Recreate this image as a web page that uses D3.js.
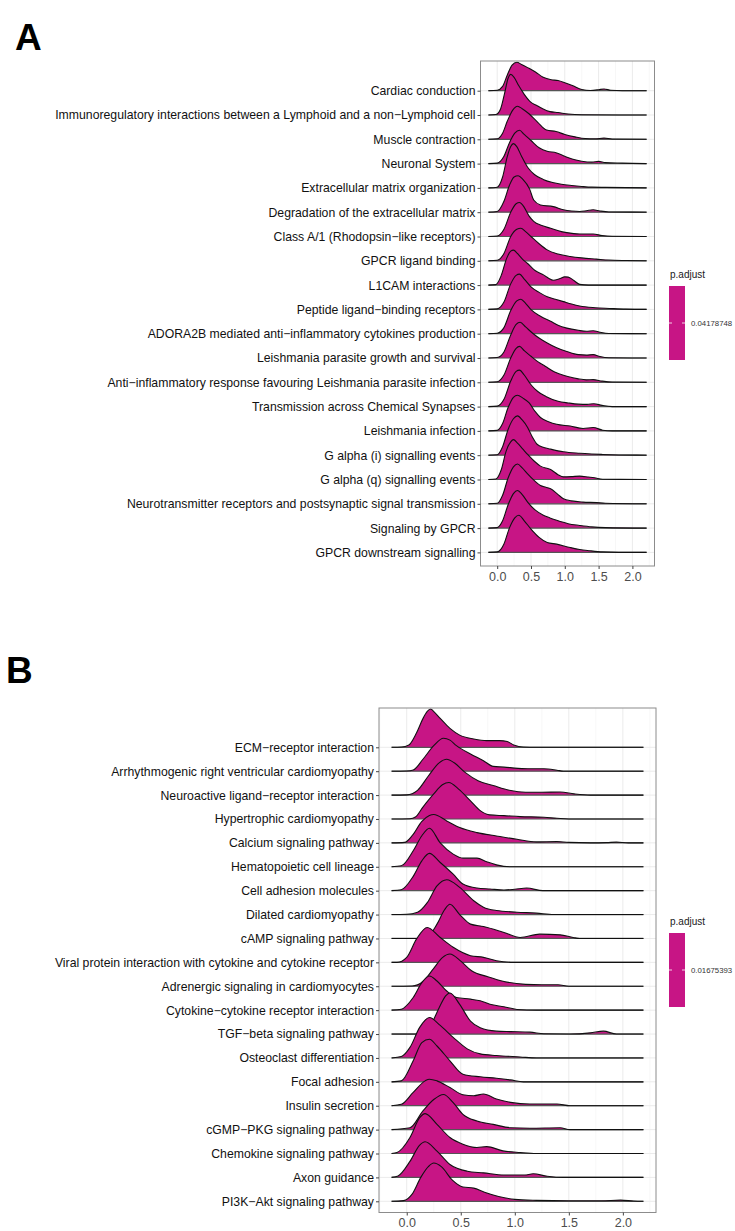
<!DOCTYPE html>
<html>
<head>
<meta charset="utf-8">
<script src="https://cdn.jsdelivr.net/npm/d3@7"></script>
<style>
  body { margin: 0; background: #fff; }
  text { font-family: "Liberation Sans", Arial, sans-serif; }
</style>
</head>
<body>
<div id="chart"></div>
<script>
// ---- data ----
const catsA = [
  "Cardiac conduction",
  "Immunoregulatory interactions between a Lymphoid and a non\u2212Lymphoid cell",
  "Muscle contraction",
  "Neuronal System",
  "Extracellular matrix organization",
  "Degradation of the extracellular matrix",
  "Class A/1 (Rhodopsin\u2212like receptors)",
  "GPCR ligand binding",
  "L1CAM interactions",
  "Peptide ligand\u2212binding receptors",
  "ADORA2B mediated anti\u2212inflammatory cytokines production",
  "Leishmania parasite growth and survival",
  "Anti\u2212inflammatory response favouring Leishmania parasite infection",
  "Transmission across Chemical Synapses",
  "Leishmania infection",
  "G alpha (i) signalling events",
  "G alpha (q) signalling events",
  "Neurotransmitter receptors and postsynaptic signal transmission",
  "Signaling by GPCR",
  "GPCR downstream signalling"
];

const catsB = [
  "ECM\u2212receptor interaction",
  "Arrhythmogenic right ventricular cardiomyopathy",
  "Neuroactive ligand\u2212receptor interaction",
  "Hypertrophic cardiomyopathy",
  "Calcium signaling pathway",
  "Hematopoietic cell lineage",
  "Cell adhesion molecules",
  "Dilated cardiomyopathy",
  "cAMP signaling pathway",
  "Viral protein interaction with cytokine and cytokine receptor",
  "Adrenergic signaling in cardiomyocytes",
  "Cytokine\u2212cytokine receptor interaction",
  "TGF\u2212beta signaling pathway",
  "Osteoclast differentiation",
  "Focal adhesion",
  "Insulin secretion",
  "cGMP\u2212PKG signaling pathway",
  "Chemokine signaling pathway",
  "Axon guidance",
  "PI3K\u2212Akt signaling pathway"
];

// ridge profiles: [value, height in row units]
const densA = [
  [[-0.13,0],[0.0,0.02],[0.08,0.18],[0.15,0.65],[0.22,1.05],[0.29,1.17],[0.36,1.08],[0.45,0.95],[0.56,0.78],[0.68,0.55],[0.8,0.45],[0.9,0.42],[1.0,0.33],[1.12,0.2],[1.25,0.05],[1.38,0.01],[1.5,0.04],[1.58,0.07],[1.68,0.02],[1.85,0],[2.21,0]],
  [[-0.13,0],[-0.02,0.02],[0.05,0.25],[0.11,0.9],[0.16,1.5],[0.2,1.67],[0.25,1.55],[0.32,1.2],[0.4,0.85],[0.5,0.52],[0.58,0.4],[0.66,0.28],[0.78,0.14],[0.9,0.1],[1.05,0.04],[1.25,0.01],[2.21,0]],
  [[-0.13,0],[0.0,0.02],[0.08,0.25],[0.15,0.75],[0.23,1.2],[0.3,1.36],[0.37,1.26],[0.47,1.05],[0.6,0.7],[0.73,0.38],[0.87,0.32],[1.0,0.2],[1.15,0.1],[1.3,0.03],[1.45,0.02],[1.58,0.05],[1.7,0.01],[2.21,0]],
  [[-0.13,0],[0.0,0.02],[0.1,0.3],[0.18,0.85],[0.26,1.25],[0.33,1.37],[0.4,1.2],[0.5,0.95],[0.62,0.65],[0.75,0.5],[0.87,0.45],[1.0,0.3],[1.12,0.18],[1.25,0.1],[1.4,0.06],[1.5,0.09],[1.6,0.04],[1.85,0.02],[2.0,0.01],[2.21,0]],
  [[-0.13,0],[0.0,0.03],[0.08,0.45],[0.15,1.3],[0.2,1.7],[0.24,1.82],[0.29,1.7],[0.36,1.3],[0.45,0.85],[0.55,0.55],[0.68,0.35],[0.82,0.22],[0.95,0.15],[1.1,0.1],[1.25,0.06],[1.4,0.03],[1.6,0.02],[2.21,0]],
  [[-0.13,0],[0.0,0.03],[0.1,0.45],[0.18,1.1],[0.25,1.45],[0.31,1.5],[0.38,1.35],[0.48,0.95],[0.54,0.5],[0.64,0.3],[0.83,0.23],[0.98,0.1],[1.1,0.05],[1.22,0.03],[1.32,0.06],[1.42,0.1],[1.52,0.05],[1.65,0.01],[2.21,0]],
  [[-0.13,0],[0.0,0.02],[0.1,0.3],[0.2,1.0],[0.28,1.35],[0.33,1.4],[0.4,1.2],[0.47,0.85],[0.54,0.62],[0.66,0.45],[0.79,0.34],[0.95,0.2],[1.08,0.14],[1.25,0.1],[1.42,0.1],[1.55,0.04],[1.7,0.01],[2.21,0]],
  [[-0.13,0],[0.0,0.02],[0.1,0.3],[0.2,1.0],[0.29,1.3],[0.35,1.34],[0.42,1.2],[0.5,1.0],[0.62,0.7],[0.74,0.45],[0.9,0.28],[1.08,0.18],[1.25,0.12],[1.47,0.07],[1.65,0.03],[1.9,0.01],[2.21,0]],
  [[-0.13,0],[-0.02,0.02],[0.06,0.4],[0.14,1.1],[0.2,1.4],[0.24,1.44],[0.3,1.3],[0.38,1.05],[0.45,0.89],[0.56,0.6],[0.69,0.41],[0.76,0.28],[0.83,0.2],[0.92,0.26],[1.0,0.34],[1.05,0.33],[1.13,0.2],[1.22,0.03],[1.35,0],[2.21,0]],
  [[-0.13,0],[0.0,0.02],[0.1,0.3],[0.2,1.05],[0.28,1.4],[0.33,1.45],[0.4,1.25],[0.5,0.93],[0.62,0.7],[0.74,0.52],[0.86,0.42],[0.98,0.32],[1.1,0.22],[1.22,0.14],[1.45,0.07],[1.66,0.04],[1.9,0.01],[2.21,0]],
  [[-0.13,0],[0.0,0.02],[0.1,0.25],[0.2,0.95],[0.29,1.35],[0.35,1.42],[0.42,1.25],[0.5,0.99],[0.64,0.72],[0.79,0.51],[0.9,0.35],[1.03,0.23],[1.2,0.14],[1.32,0.1],[1.42,0.12],[1.52,0.06],[1.65,0.01],[2.21,0]],
  [[-0.13,0],[0.0,0.02],[0.1,0.25],[0.2,0.95],[0.28,1.38],[0.34,1.47],[0.42,1.28],[0.52,1.03],[0.63,0.8],[0.74,0.62],[0.88,0.42],[1.03,0.27],[1.2,0.14],[1.32,0.12],[1.42,0.14],[1.52,0.06],[1.65,0.01],[2.21,0]],
  [[-0.13,0],[0.0,0.02],[0.1,0.3],[0.2,1.0],[0.28,1.4],[0.33,1.48],[0.4,1.3],[0.5,1.07],[0.6,0.85],[0.71,0.66],[0.85,0.42],[1.03,0.25],[1.2,0.14],[1.32,0.1],[1.42,0.11],[1.55,0.05],[1.7,0.01],[2.21,0]],
  [[-0.13,0],[0.0,0.02],[0.1,0.3],[0.2,1.05],[0.28,1.45],[0.33,1.5],[0.4,1.3],[0.5,0.9],[0.6,0.62],[0.72,0.42],[0.9,0.22],[1.05,0.15],[1.2,0.1],[1.33,0.09],[1.43,0.12],[1.55,0.05],[1.7,0.0],[2.21,0]],
  [[-0.13,0],[0.0,0.02],[0.08,0.3],[0.16,0.95],[0.24,1.38],[0.3,1.47],[0.38,1.35],[0.47,1.16],[0.56,0.8],[0.64,0.55],[0.76,0.38],[0.88,0.27],[1.08,0.2],[1.27,0.1],[1.42,0.14],[1.56,0.03],[1.7,0],[2.21,0]],
  [[-0.13,0],[0.0,0.02],[0.08,0.35],[0.16,1.05],[0.24,1.5],[0.3,1.62],[0.37,1.45],[0.45,1.14],[0.52,0.75],[0.59,0.45],[0.69,0.32],[0.79,0.25],[0.98,0.14],[1.22,0.08],[1.4,0.05],[1.56,0.03],[1.8,0.01],[2.21,0]],
  [[-0.13,0],[-0.02,0.02],[0.06,0.4],[0.13,1.15],[0.2,1.55],[0.24,1.64],[0.3,1.5],[0.38,1.25],[0.45,1.03],[0.55,0.75],[0.64,0.55],[0.79,0.41],[0.9,0.2],[0.98,0.11],[1.1,0.12],[1.22,0.14],[1.35,0.1],[1.44,0.07],[1.56,0.01],[2.21,0]],
  [[-0.13,0],[0.0,0.02],[0.08,0.35],[0.16,1.05],[0.24,1.52],[0.3,1.64],[0.37,1.48],[0.45,1.23],[0.55,0.95],[0.64,0.75],[0.72,0.68],[0.79,0.62],[0.9,0.38],[0.98,0.21],[1.1,0.12],[1.27,0.07],[1.47,0.05],[1.6,0.02],[2.21,0]],
  [[-0.13,0],[0.0,0.02],[0.08,0.3],[0.16,0.95],[0.24,1.42],[0.3,1.55],[0.37,1.38],[0.45,1.07],[0.56,0.75],[0.69,0.52],[0.78,0.42],[0.88,0.32],[1.05,0.18],[1.22,0.11],[1.4,0.05],[1.6,0.02],[2.21,0]],
  [[-0.13,0],[0.0,0.02],[0.1,0.35],[0.18,1.0],[0.26,1.42],[0.32,1.53],[0.4,1.3],[0.5,0.96],[0.62,0.62],[0.74,0.41],[0.88,0.34],[1.08,0.2],[1.22,0.12],[1.37,0.07],[1.56,0.02],[1.8,0],[2.21,0]]
];

const densB = [
  [[-0.14,0],[-0.05,0.01],[0.02,0.1],[0.09,0.6],[0.15,1.2],[0.19,1.5],[0.22,1.6],[0.26,1.45],[0.31,1.21],[0.4,0.79],[0.49,0.51],[0.62,0.35],[0.74,0.28],[0.86,0.28],[0.93,0.24],[0.99,0.1],[1.08,0.01],[1.2,0],[2.19,0]],
  [[-0.14,0],[0.0,0.01],[0.06,0.05],[0.15,0.5],[0.25,1.07],[0.34,1.38],[0.4,1.3],[0.46,1.07],[0.59,0.72],[0.71,0.44],[0.8,0.2],[0.9,0.17],[1.03,0.12],[1.14,0.1],[1.27,0.1],[1.39,0.04],[1.45,0.0],[2.19,0]],
  [[-0.14,0],[0.0,0.01],[0.1,0.2],[0.2,0.8],[0.3,1.35],[0.37,1.5],[0.44,1.35],[0.54,0.95],[0.66,0.6],[0.8,0.4],[0.95,0.2],[1.1,0.12],[1.25,0.12],[1.42,0.13],[1.55,0.05],[1.7,0.0],[2.19,0]],
  [[-0.14,0],[0.03,0.01],[0.08,0.08],[0.15,0.5],[0.25,1.05],[0.33,1.43],[0.39,1.53],[0.48,1.25],[0.59,0.76],[0.68,0.35],[0.77,0.17],[0.9,0.14],[1.05,0.1],[1.27,0.07],[1.39,0.03],[1.5,0],[2.19,0]],
  [[-0.14,0],[-0.02,0.02],[0.05,0.3],[0.14,0.9],[0.21,1.15],[0.25,1.19],[0.37,0.92],[0.49,0.64],[0.65,0.43],[0.83,0.29],[1.02,0.15],[1.2,0.04],[1.39,0.06],[1.5,0.02],[1.7,0.0],[1.85,0.01],[1.94,0.03],[2.05,0.0],[2.19,0]],
  [[-0.14,0],[-0.05,0.04],[0.06,0.67],[0.14,1.3],[0.21,1.61],[0.31,1.0],[0.43,0.53],[0.52,0.36],[0.65,0.36],[0.74,0.21],[0.83,0.08],[0.96,0.0],[2.19,0]],
  [[-0.14,0],[-0.05,0.04],[0.06,0.6],[0.14,1.25],[0.21,1.56],[0.31,1.18],[0.43,0.69],[0.52,0.28],[0.65,0.11],[0.77,0.07],[0.9,0.03],[1.0,0.06],[1.11,0.11],[1.26,0.0],[2.19,0]],
  [[-0.14,0],[0.0,0.01],[0.1,0.1],[0.19,0.5],[0.28,1.2],[0.37,1.46],[0.49,1.14],[0.62,0.58],[0.71,0.31],[0.83,0.17],[1.02,0.1],[1.2,0.06],[1.36,0.0],[2.19,0]],
  [[-0.14,0],[0.1,0.0],[0.2,0.1],[0.28,0.6],[0.35,1.2],[0.4,1.43],[0.49,1.0],[0.59,0.6],[0.71,0.5],[0.9,0.25],[1.05,0.04],[1.23,0.18],[1.42,0.15],[1.54,0.04],[1.6,0.0],[2.19,0]],
  [[-0.14,0],[-0.09,0.0],[0.0,0.21],[0.09,0.97],[0.19,1.46],[0.31,1.04],[0.43,0.63],[0.59,0.28],[0.71,0.21],[0.83,0.07],[0.99,0.0],[2.19,0]],
  [[-0.14,0],[0.05,0.01],[0.15,0.2],[0.25,0.75],[0.33,1.2],[0.4,1.35],[0.5,1.05],[0.6,0.65],[0.75,0.4],[0.9,0.2],[1.1,0.08],[1.25,0.06],[1.4,0.06],[1.5,0.0],[2.19,0]],
  [[-0.14,0],[-0.05,0.04],[0.06,0.53],[0.14,1.15],[0.21,1.43],[0.28,1.22],[0.37,0.8],[0.46,0.53],[0.59,0.46],[0.68,0.39],[0.77,0.25],[0.9,0.14],[1.02,0.03],[1.2,0.0],[2.19,0]],
  [[-0.14,0],[0.15,0],[0.22,0.35],[0.3,1.1],[0.36,1.6],[0.4,1.72],[0.49,1.24],[0.59,0.54],[0.68,0.26],[0.83,0.12],[0.96,0.1],[1.14,0.08],[1.27,0.01],[1.51,0],[1.7,0.05],[1.82,0.12],[1.94,0.0],[2.19,0]],
  [[-0.14,0],[-0.05,0.06],[0.03,0.44],[0.12,1.28],[0.21,1.69],[0.31,1.36],[0.43,0.86],[0.56,0.38],[0.68,0.17],[0.83,0.1],[1.05,0.04],[1.2,0.0],[2.19,0]],
  [[-0.14,0],[-0.05,0.04],[0.06,0.88],[0.14,1.64],[0.21,1.78],[0.28,1.5],[0.4,0.88],[0.52,0.32],[0.68,0.21],[0.83,0.15],[0.96,0.08],[1.08,0.0],[2.19,0]],
  [[-0.14,0],[-0.05,0.06],[0.06,0.56],[0.17,1.04],[0.21,1.11],[0.28,1.04],[0.4,0.76],[0.52,0.46],[0.62,0.42],[0.71,0.49],[0.83,0.28],[0.96,0.14],[1.14,0.07],[1.39,0.07],[1.51,0.0],[2.19,0]],
  [[-0.14,0],[0.03,0.08],[0.15,0.78],[0.25,1.26],[0.34,1.47],[0.43,1.13],[0.52,0.64],[0.65,0.36],[0.8,0.22],[0.96,0.08],[1.14,0.06],[1.42,0.08],[1.51,0.0],[2.19,0]],
  [[-0.14,0],[-0.09,0.04],[0.03,0.67],[0.12,1.5],[0.17,1.67],[0.28,1.22],[0.4,0.67],[0.52,0.39],[0.65,0.25],[0.74,0.29],[0.89,0.11],[1.05,0.04],[1.2,0.0],[2.19,0]],
  [[-0.14,0],[-0.08,0.06],[0.03,0.67],[0.12,1.35],[0.17,1.49],[0.28,1.1],[0.4,0.54],[0.56,0.26],[0.71,0.19],[0.9,0.1],[1.09,0.1],[1.17,0.15],[1.3,0.05],[1.45,0.0],[2.19,0]],
  [[-0.14,0],[-0.03,0.03],[0.05,0.3],[0.13,1.0],[0.2,1.45],[0.25,1.6],[0.32,1.45],[0.42,0.9],[0.52,0.6],[0.62,0.55],[0.72,0.38],[0.85,0.2],[1.0,0.08],[1.2,0.04],[1.5,0.02],[1.8,0.02],[1.98,0.05],[2.1,0.01],[2.19,0]]
];

const xTicks = [0, 0.5, 1.0, 1.5, 2.0];
const xMinor = [-0.25, 0.25, 0.75, 1.25, 1.75, 2.25];
const padjA = ["0.04178748"];
const padjB = ["0.01675393"];

// ---- drawing ----
const W = 735, H = 1231;
const fillCol = "#c71585";
const labelSize = 12.25;

const svg = d3.select("#chart").append("svg")
  .attr("width", W).attr("height", H);

function drawPanel(o) {
  const x = d3.scaleLinear().domain(o.xDomain).range([o.left, o.right]);
  const y = d3.scalePoint().domain(o.cats).range([o.first, o.last]);
  const step = y.step();

  const g = svg.append("g");

  // grid
  g.selectAll(".minor").data(xMinor.filter(d => x(d) > o.left && x(d) < o.right)).enter()
    .append("line")
    .attr("x1", d => x(d)).attr("x2", d => x(d))
    .attr("y1", o.top).attr("y2", o.bottom)
    .attr("stroke", "#f2f2f2").attr("stroke-width", 0.6);
  g.selectAll(".major").data(xTicks).enter()
    .append("line")
    .attr("x1", d => x(d)).attr("x2", d => x(d))
    .attr("y1", o.top).attr("y2", o.bottom)
    .attr("stroke", "#ebebeb").attr("stroke-width", 1);
  g.selectAll(".hgrid").data(o.cats).enter()
    .append("line")
    .attr("x1", o.left).attr("x2", o.right)
    .attr("y1", d => y(d)).attr("y2", d => y(d))
    .attr("stroke", "#ebebeb").attr("stroke-width", 1);

  const clipId = "clip" + o.id;
  svg.append("clipPath").attr("id", clipId).append("rect")
    .attr("x", o.left).attr("y", o.top)
    .attr("width", o.right - o.left).attr("height", o.bottom - o.top);

  const ridges = g.append("g").attr("clip-path", `url(#${clipId})`);

  o.cats.forEach((c, i) => {
    const base = y(c);
    const pts = o.dens[i];
    const area = d3.area()
      .x(d => x(d[0]))
      .y0(base)
      .y1(d => base - d[1] * step)
      .curve(d3.curveMonotoneX);
    const line = d3.line()
      .x(d => x(d[0]))
      .y(d => base - d[1] * step)
      .curve(d3.curveMonotoneX);
    ridges.append("path").attr("d", area(pts))
      .attr("fill", fillCol).attr("stroke", "none");
    ridges.append("line")
      .attr("x1", x(pts[0][0])).attr("x2", x(pts[pts.length - 1][0]))
      .attr("y1", base).attr("y2", base)
      .attr("stroke", "#555").attr("stroke-width", 1.2);
    ridges.append("path").attr("d", line(pts))
      .attr("fill", "none").attr("stroke", "#111").attr("stroke-width", 1.1);
  });

  // frame
  g.append("rect")
    .attr("x", o.left).attr("y", o.top)
    .attr("width", o.right - o.left).attr("height", o.bottom - o.top)
    .attr("fill", "none").attr("stroke", "#8c8c8c").attr("stroke-width", 1);

  // axes
  const ax = g.append("g").attr("transform", `translate(0,${o.bottom})`)
    .call(d3.axisBottom(x).tickValues(xTicks).tickFormat(d3.format(".1f")).tickSize(3).tickPadding(3));
  ax.select(".domain").remove();
  ax.selectAll(".tick line").attr("stroke", "#444");
  ax.selectAll(".tick text").attr("fill", "#4d4d4d").attr("font-size", 12.5)
    .attr("font-family", "'Liberation Sans', Arial, sans-serif");

  const ay = g.append("g").attr("transform", `translate(${o.left},0)`)
    .call(d3.axisLeft(y).tickSize(3).tickPadding(2));
  ay.select(".domain").remove();
  ay.selectAll(".tick line").attr("stroke", "#444");
  ay.selectAll(".tick text").attr("fill", "#111").attr("font-size", labelSize)
    .attr("font-family", "'Liberation Sans', Arial, sans-serif");

  // legend
  const lg = svg.append("g");
  lg.append("text").attr("x", o.legX).attr("y", o.legY)
    .attr("font-size", 10).attr("fill", "#1a1a1a").text("p.adjust");
  lg.append("rect").attr("x", o.legX - 1).attr("y", o.legY + 8)
    .attr("width", 16).attr("height", 74).attr("fill", fillCol);
  const midY = o.legY + 8 + 37;
  [o.legX - 1, o.legX + 12].forEach(lx => {
    lg.append("line").attr("x1", lx).attr("x2", lx + 3)
      .attr("y1", midY).attr("y2", midY)
      .attr("stroke", "#fff").attr("stroke-width", 0.8);
  });
  lg.append("text").attr("x", o.legX + 21).attr("y", midY + 3)
    .attr("font-size", 7.8).attr("fill", "#333").text(o.padj[0]);

  // panel letter
  svg.append("text").attr("x", o.tagX).attr("y", o.tagY)
    .attr("font-size", 37).attr("font-weight", "bold").attr("fill", "#000")
    .text(o.tag);
}

drawPanel({
  id: "A", tag: "A", tagX: 15, tagY: 50,
  cats: catsA, dens: densA, padj: padjA,
  left: 480.5, right: 654.5, top: 61, bottom: 566,
  first: 90.7, last: 552.4,
  xDomain: [-0.247, 2.327],
  legX: 670, legY: 278
});

drawPanel({
  id: "B", tag: "B", tagX: 6, tagY: 683,
  cats: catsB, dens: densB, padj: padjB,
  left: 379, right: 656, top: 708, bottom: 1212.5,
  first: 747.3, last: 1201.3,
  xDomain: [-0.2565, 2.3065],
  legX: 670, legY: 925
});
</script>
</body>
</html>
